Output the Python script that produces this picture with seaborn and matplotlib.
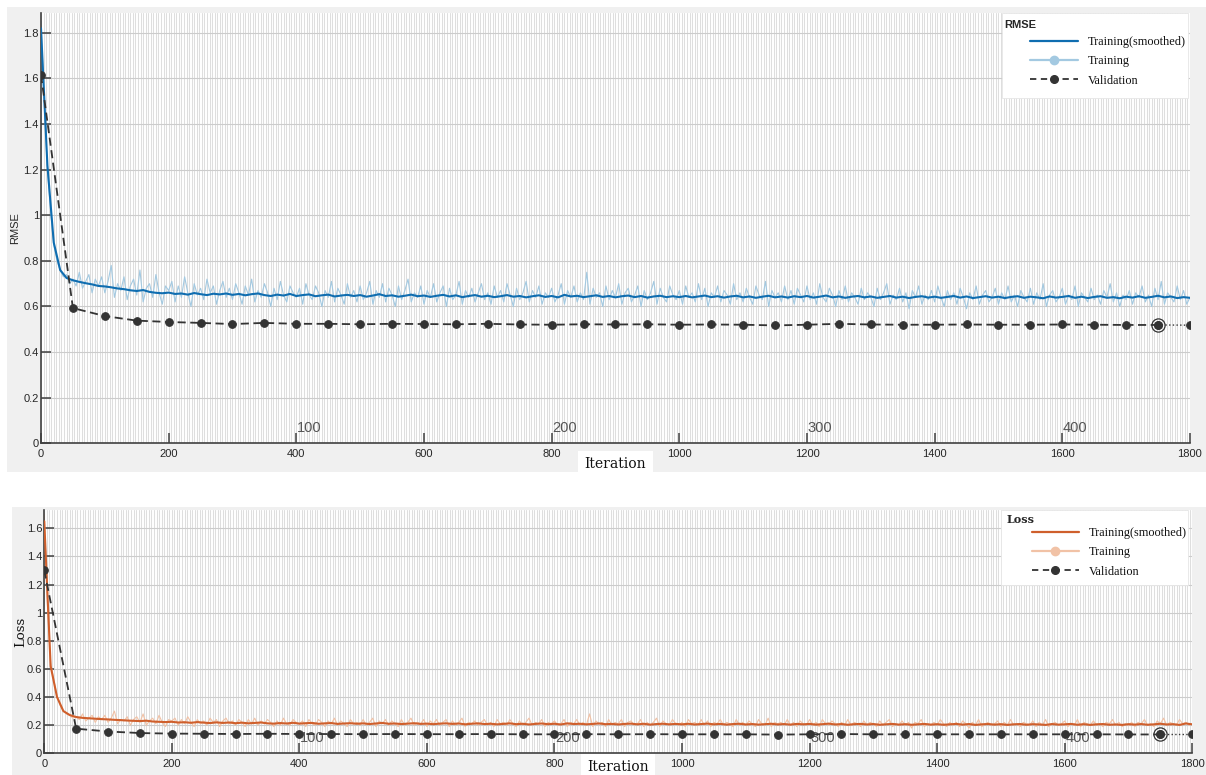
import numpy as np
import matplotlib
matplotlib.use("Agg")
import matplotlib.pyplot as plt
from matplotlib.lines import Line2D
from matplotlib.patches import Rectangle
from matplotlib.ticker import MultipleLocator, FuncFormatter
import seaborn as sns

# sampling of the series (iterations between stored values)
raw_step = 5
smooth_step = 10
val_step = 50
iters_per_epoch = 4
epoch_labels = [100, 200, 300, 400]
x_ticks = [0, 200, 400, 600, 800, 1000, 1200, 1400, 1600, 1800]

# RMSE panel
rmse_smooth = [
    1.82, 1.22, 0.88, 0.76, 0.725, 0.715, 0.708, 0.702, 0.697, 0.690,
    0.688, 0.684, 0.679, 0.676, 0.671, 0.668, 0.672, 0.664, 0.660, 0.658,
    0.661, 0.655, 0.657, 0.652, 0.659, 0.654, 0.650, 0.656, 0.653, 0.657,
    0.651, 0.655, 0.649, 0.654, 0.657, 0.650, 0.646, 0.652, 0.648, 0.655,
    0.646, 0.650, 0.653, 0.645, 0.649, 0.652, 0.644, 0.648, 0.651, 0.646,
    0.650, 0.643, 0.648, 0.654, 0.646, 0.649, 0.643, 0.647, 0.652, 0.645,
    0.648, 0.642, 0.647, 0.651, 0.644, 0.649, 0.641, 0.646, 0.650, 0.643,
    0.647, 0.641, 0.645, 0.650, 0.643, 0.646, 0.640, 0.645, 0.649, 0.642,
    0.646, 0.640, 0.651, 0.644, 0.647, 0.641, 0.645, 0.649, 0.642, 0.646,
    0.640, 0.645, 0.648, 0.641, 0.646, 0.639, 0.644, 0.647, 0.641, 0.645,
    0.641, 0.646, 0.640, 0.644, 0.648, 0.641, 0.645, 0.639, 0.644, 0.647,
    0.640, 0.644, 0.638, 0.643, 0.647, 0.640, 0.644, 0.639, 0.645, 0.641,
    0.646, 0.639, 0.643, 0.648, 0.640, 0.644, 0.638, 0.643, 0.646, 0.640,
    0.644, 0.638, 0.642, 0.646, 0.639, 0.643, 0.637, 0.642, 0.645, 0.639,
    0.643, 0.638, 0.642, 0.646, 0.639, 0.644, 0.637, 0.641, 0.645, 0.639,
    0.643, 0.637, 0.642, 0.645, 0.638, 0.643, 0.640, 0.636, 0.644, 0.639,
    0.642, 0.646, 0.638, 0.643, 0.637, 0.642, 0.645, 0.638, 0.641, 0.636,
    0.643, 0.639, 0.645, 0.638, 0.642, 0.647, 0.640, 0.644, 0.637, 0.641,
    0.638,
]
rmse_raw = [
    1.85, 1.50, 1.20, 1.02, 0.87, 0.80, 0.76, 0.73, 0.74, 0.70, 0.72, 0.69, 0.75, 0.68, 0.71, 0.74, 0.66, 0.72, 0.69, 0.73,
    0.66, 0.71, 0.78, 0.64, 0.70, 0.67, 0.73, 0.63, 0.69, 0.72, 0.65, 0.76, 0.62, 0.68, 0.70, 0.64, 0.74, 0.66, 0.61, 0.69,
    0.67, 0.71, 0.62, 0.69, 0.64, 0.73, 0.66, 0.60, 0.70, 0.65, 0.68, 0.63, 0.72, 0.66, 0.69, 0.61, 0.67, 0.71, 0.64, 0.68,
    0.63, 0.70, 0.66, 0.61, 0.69, 0.65, 0.72, 0.62, 0.67, 0.64, 0.70, 0.66, 0.60, 0.68, 0.63, 0.71, 0.65, 0.62, 0.69, 0.66,
    0.64, 0.68, 0.61, 0.70, 0.65, 0.63, 0.69, 0.66, 0.60, 0.67, 0.64, 0.71, 0.62, 0.68, 0.65, 0.61, 0.70, 0.64, 0.67, 0.62,
    0.69, 0.63, 0.66, 0.71, 0.61, 0.67, 0.64, 0.70, 0.62, 0.68, 0.65, 0.60, 0.69, 0.63, 0.67, 0.72, 0.62, 0.66, 0.64, 0.69,
    0.61, 0.67, 0.64, 0.70, 0.62, 0.66, 0.69, 0.60, 0.68, 0.63, 0.65, 0.71, 0.61, 0.67, 0.64, 0.68, 0.62, 0.66, 0.70, 0.63,
    0.66, 0.61, 0.69, 0.64, 0.67, 0.62, 0.70, 0.65, 0.60, 0.68, 0.63, 0.66, 0.71, 0.62, 0.67, 0.64, 0.69, 0.61, 0.66, 0.64,
    0.68, 0.62, 0.65, 0.70, 0.61, 0.67, 0.64, 0.69, 0.62, 0.66, 0.63, 0.75, 0.61, 0.68, 0.64, 0.66, 0.60, 0.69, 0.63, 0.67,
    0.64, 0.70, 0.61, 0.66, 0.68, 0.62, 0.65, 0.69, 0.60, 0.67, 0.63, 0.66, 0.71, 0.61, 0.68, 0.64, 0.62, 0.69, 0.65, 0.63,
    0.67, 0.61, 0.69, 0.64, 0.66, 0.62, 0.70, 0.63, 0.68, 0.60, 0.66, 0.64, 0.69, 0.62, 0.67, 0.65, 0.61, 0.70, 0.63, 0.66,
    0.62, 0.68, 0.64, 0.61, 0.69, 0.65, 0.63, 0.71, 0.60, 0.67, 0.64, 0.66, 0.62, 0.69, 0.63, 0.67, 0.61, 0.68, 0.65, 0.62,
    0.69, 0.63, 0.66, 0.61, 0.70, 0.64, 0.62, 0.68, 0.65, 0.60, 0.67, 0.63, 0.69, 0.62, 0.66, 0.64, 0.61, 0.68, 0.63, 0.66,
    0.64, 0.60, 0.68, 0.63, 0.66, 0.70, 0.61, 0.65, 0.63, 0.68, 0.62, 0.66, 0.59, 0.67, 0.64, 0.69, 0.61, 0.65, 0.63, 0.67,
    0.62, 0.69, 0.64, 0.60, 0.67, 0.63, 0.66, 0.61, 0.68, 0.64, 0.59, 0.66, 0.63, 0.69, 0.61, 0.65, 0.67, 0.62, 0.64, 0.68,
    0.61, 0.66, 0.63, 0.69, 0.62, 0.65, 0.60, 0.67, 0.64, 0.62, 0.68, 0.61, 0.66, 0.63, 0.70, 0.60, 0.65, 0.67, 0.62, 0.64,
    0.68, 0.61, 0.65, 0.63, 0.69, 0.60, 0.66, 0.64, 0.62, 0.68, 0.63, 0.65, 0.61, 0.67, 0.64, 0.70, 0.62, 0.66, 0.60, 0.65,
    0.63, 0.67, 0.61, 0.66, 0.64, 0.69, 0.62, 0.65, 0.60, 0.68, 0.63, 0.71, 0.61, 0.66, 0.64, 0.62, 0.69, 0.63, 0.67, 0.61,
    0.64,
]
rmse_val = [
    1.615, 0.593, 0.558, 0.538, 0.532, 0.528, 0.523, 0.528, 0.524, 0.524,
    0.522, 0.524, 0.523, 0.522, 0.524, 0.521, 0.520, 0.522, 0.521, 0.522,
    0.520, 0.521, 0.520, 0.517, 0.520, 0.524, 0.521, 0.520, 0.520, 0.521,
    0.520, 0.520, 0.521, 0.520, 0.519, 0.519, 0.518,
]

# Loss panel
loss_smooth = [
    1.65, 0.62, 0.40, 0.30, 0.272, 0.258, 0.252, 0.249, 0.246, 0.243,
    0.241, 0.238, 0.236, 0.233, 0.231, 0.229, 0.232, 0.226, 0.224, 0.222,
    0.224, 0.219, 0.221, 0.217, 0.222, 0.218, 0.215, 0.220, 0.216, 0.219,
    0.214, 0.218, 0.213, 0.216, 0.219, 0.213, 0.211, 0.215, 0.212, 0.217,
    0.211, 0.214, 0.216, 0.210, 0.213, 0.215, 0.209, 0.212, 0.214, 0.210,
    0.213, 0.208, 0.212, 0.216, 0.210, 0.212, 0.208, 0.211, 0.214, 0.209,
    0.211, 0.207, 0.211, 0.213, 0.209, 0.212, 0.206, 0.210, 0.213, 0.208,
    0.210, 0.206, 0.209, 0.213, 0.207, 0.210, 0.205, 0.209, 0.212, 0.207,
    0.210, 0.205, 0.213, 0.208, 0.210, 0.206, 0.209, 0.212, 0.207, 0.209,
    0.205, 0.209, 0.211, 0.206, 0.210, 0.204, 0.208, 0.210, 0.206, 0.209,
    0.206, 0.210, 0.205, 0.208, 0.211, 0.206, 0.209, 0.204, 0.208, 0.210,
    0.205, 0.208, 0.204, 0.207, 0.210, 0.205, 0.208, 0.204, 0.209, 0.206,
    0.209, 0.204, 0.207, 0.211, 0.205, 0.208, 0.203, 0.207, 0.209, 0.205,
    0.208, 0.203, 0.206, 0.209, 0.204, 0.207, 0.203, 0.206, 0.209, 0.204,
    0.207, 0.203, 0.206, 0.209, 0.204, 0.208, 0.202, 0.206, 0.208, 0.204,
    0.207, 0.202, 0.206, 0.208, 0.203, 0.207, 0.205, 0.202, 0.208, 0.204,
    0.206, 0.209, 0.203, 0.207, 0.202, 0.206, 0.208, 0.203, 0.205, 0.202,
    0.207, 0.204, 0.208, 0.203, 0.206, 0.210, 0.205, 0.207, 0.202, 0.212,
    0.206,
]
loss_raw = [
    1.70, 1.05, 0.64, 0.52, 0.41, 0.34, 0.30, 0.28, 0.27, 0.25, 0.26, 0.24, 0.28, 0.23, 0.25, 0.27, 0.22, 0.26, 0.24, 0.27,
    0.22, 0.25, 0.30, 0.21, 0.24, 0.23, 0.26, 0.20, 0.24, 0.26, 0.22, 0.28, 0.20, 0.23, 0.25, 0.21, 0.27, 0.22, 0.19, 0.24,
    0.23, 0.25, 0.20, 0.24, 0.21, 0.26, 0.22, 0.19, 0.24, 0.21, 0.23, 0.20, 0.25, 0.22, 0.24, 0.19, 0.23, 0.25, 0.21, 0.23,
    0.20, 0.24, 0.22, 0.19, 0.24, 0.21, 0.25, 0.20, 0.23, 0.21, 0.24, 0.22, 0.19, 0.23, 0.20, 0.25, 0.21, 0.20, 0.24, 0.22,
    0.21, 0.23, 0.19, 0.24, 0.21, 0.20, 0.24, 0.22, 0.19, 0.23, 0.21, 0.25, 0.20, 0.23, 0.21, 0.19, 0.24, 0.21, 0.22, 0.20,
    0.24, 0.20, 0.22, 0.25, 0.19, 0.23, 0.21, 0.24, 0.20, 0.23, 0.21, 0.19, 0.24, 0.20, 0.22, 0.25, 0.20, 0.22, 0.21, 0.24,
    0.19, 0.23, 0.21, 0.24, 0.20, 0.22, 0.24, 0.19, 0.23, 0.20, 0.22, 0.25, 0.19, 0.22, 0.21, 0.23, 0.20, 0.22, 0.24, 0.20,
    0.22, 0.19, 0.24, 0.21, 0.22, 0.20, 0.24, 0.21, 0.19, 0.23, 0.20, 0.22, 0.25, 0.20, 0.22, 0.21, 0.24, 0.19, 0.22, 0.21,
    0.23, 0.20, 0.21, 0.24, 0.19, 0.22, 0.21, 0.24, 0.20, 0.22, 0.20, 0.28, 0.19, 0.23, 0.21, 0.22, 0.19, 0.24, 0.20, 0.22,
    0.21, 0.24, 0.19, 0.22, 0.23, 0.20, 0.21, 0.24, 0.19, 0.22, 0.20, 0.22, 0.25, 0.19, 0.23, 0.21, 0.20, 0.24, 0.21, 0.20,
    0.22, 0.19, 0.24, 0.21, 0.22, 0.20, 0.24, 0.20, 0.23, 0.19, 0.22, 0.21, 0.24, 0.20, 0.22, 0.21, 0.19, 0.24, 0.20, 0.22,
    0.20, 0.23, 0.21, 0.19, 0.24, 0.21, 0.20, 0.25, 0.19, 0.22, 0.21, 0.22, 0.20, 0.24, 0.20, 0.22, 0.19, 0.23, 0.21, 0.20,
    0.24, 0.20, 0.22, 0.19, 0.24, 0.21, 0.20, 0.23, 0.21, 0.19, 0.22, 0.20, 0.24, 0.20, 0.22, 0.21, 0.19, 0.23, 0.20, 0.22,
    0.21, 0.19, 0.23, 0.20, 0.22, 0.24, 0.19, 0.21, 0.20, 0.23, 0.20, 0.22, 0.18, 0.22, 0.21, 0.24, 0.19, 0.21, 0.20, 0.22,
    0.20, 0.24, 0.21, 0.19, 0.22, 0.20, 0.22, 0.19, 0.23, 0.21, 0.18, 0.22, 0.20, 0.24, 0.19, 0.21, 0.22, 0.20, 0.21, 0.23,
    0.19, 0.22, 0.20, 0.24, 0.20, 0.21, 0.19, 0.22, 0.21, 0.20, 0.23, 0.19, 0.22, 0.20, 0.24, 0.19, 0.21, 0.22, 0.20, 0.21,
    0.23, 0.19, 0.21, 0.20, 0.24, 0.19, 0.22, 0.21, 0.20, 0.23, 0.20, 0.21, 0.19, 0.22, 0.21, 0.24, 0.20, 0.22, 0.19, 0.21,
    0.20, 0.22, 0.19, 0.22, 0.21, 0.24, 0.20, 0.21, 0.19, 0.23, 0.21, 0.25, 0.20, 0.22, 0.21, 0.20, 0.24, 0.21, 0.22, 0.20,
    0.21,
]
loss_val = [
    1.30, 0.175, 0.155, 0.144, 0.140, 0.139, 0.137, 0.139, 0.137, 0.137,
    0.136, 0.137, 0.136, 0.136, 0.137, 0.135, 0.135, 0.136, 0.135, 0.136,
    0.135, 0.135, 0.135, 0.133, 0.135, 0.137, 0.135, 0.135, 0.135, 0.135,
    0.135, 0.135, 0.135, 0.135, 0.134, 0.134, 0.134,
]

sns.set_style("ticks")
plt.rcParams["font.family"] = ["Liberation Sans", "DejaVu Sans"]
SERIF = "DejaVu Serif"
LEG_SERIF = "Liberation Serif"
VAL_COLOR = "#333333"

fig = plt.figure(figsize=(12.06, 7.75), dpi=100)
fig.patch.set_facecolor("white")
# grey panels behind each plot
fig.patches.append(Rectangle((0.006, 0.391), 0.994, 0.600, transform=fig.transFigure,
                             facecolor="#f0f0f0", edgecolor="none", zorder=-5))
fig.patches.append(Rectangle((0.010, 0.0), 0.990, 0.346, transform=fig.transFigure,
                             facecolor="#f0f0f0", edgecolor="none", zorder=-5))

ax_top = fig.add_axes([0.0340, 0.4280, 0.9527, 0.5552])
ax_bot = fig.add_axes([0.0367, 0.0280, 0.9519, 0.3139])


def draw_panel(ax, raw, smooth, val, dark, light, ymax, yticks, ylabel, ylab_font,
               ylab_x, title, title_font, box, title_xy, leg_anchor, xlab_y):
    raw_it = np.arange(len(raw)) * raw_step
    sm_it = np.arange(len(smooth)) * smooth_step
    val_it = np.arange(len(val)) * val_step

    sns.lineplot(x=raw_it, y=raw, ax=ax, color=light, lw=0.8,
                 estimator=None, errorbar=None, zorder=2)
    sns.lineplot(x=sm_it, y=smooth, ax=ax, color=dark, lw=1.5,
                 estimator=None, errorbar=None, zorder=3)
    sns.lineplot(x=val_it[:-1], y=val[:-1], ax=ax, color=VAL_COLOR, lw=1.3,
                 linestyle=(0, (4.5, 2.5)), marker="o", markersize=5.5,
                 markeredgecolor=VAL_COLOR, markerfacecolor=VAL_COLOR,
                 estimator=None, errorbar=None, zorder=4)
    # last validation step: dotted link and circled final-best point
    sns.lineplot(x=val_it[-2:], y=val[-2:], ax=ax, color=VAL_COLOR, lw=1.0,
                 linestyle=":", marker="o", markersize=5.5,
                 markeredgecolor=VAL_COLOR, markerfacecolor=VAL_COLOR,
                 estimator=None, errorbar=None, zorder=4)
    ax.plot(val_it[-2], val[-2], marker="o", ms=9.5, mfc="none",
            mec=VAL_COLOR, mew=0.9, zorder=4)

    ax.set_xlim(0, 1800)
    ax.set_ylim(0, ymax)
    ax.set_facecolor("white")
    ax.set_axisbelow(True)
    ax.set_xticks(x_ticks)
    ax.set_yticks(yticks)
    ax.yaxis.set_major_formatter(FuncFormatter(lambda v, p: f"{v:g}"))
    ax.xaxis.set_minor_locator(MultipleLocator(iters_per_epoch))
    ax.grid(which="both", axis="x", color="#dedede", lw=0.75)
    ax.grid(which="major", axis="y", color="#cccccc", lw=0.8)
    ax.tick_params(which="major", direction="in", length=7, width=1.1,
                   color="#404040", labelsize=8, labelcolor="#262626")
    ax.tick_params(axis="x", which="major", pad=4)
    ax.tick_params(axis="y", which="major", pad=1.5)
    ax.tick_params(which="minor", length=0)
    for s in ["top", "right"]:
        ax.spines[s].set_visible(False)
    for s in ["left", "bottom"]:
        ax.spines[s].set_color("#404040")
        ax.spines[s].set_linewidth(1.2)

    # epoch numbers along the bottom
    for ep in epoch_labels:
        ax.annotate(str(ep), xy=(ep * iters_per_epoch, 0),
                    xycoords=("data", "axes fraction"), xytext=(0.5, 6),
                    textcoords="offset points", fontsize=10.5, color="#555555",
                    ha="left", va="bottom", zorder=1)

    lab = ax.set_ylabel(ylabel, **ylab_font)
    lab.set_va("center")
    ax.yaxis.set_label_coords(ylab_x, 0.5)
    xl = ax.set_xlabel("Iteration", family=SERIF, fontsize=10, color="#111111",
                       bbox=dict(boxstyle="square,pad=0.45", fc="white", ec="none"))
    xl.set_va("center")
    ax.xaxis.set_label_coords(0.5, xlab_y)

    # legend box
    ax.add_patch(Rectangle((box[0], box[1]), box[2], box[3], transform=ax.transAxes,
                           facecolor="white", edgecolor="#e6e6e6", lw=0.6, zorder=6))
    ax.text(title_xy[0], title_xy[1], title, transform=ax.transAxes, ha="left",
            va="center", fontweight="bold", zorder=8, **title_font)
    handles = [
        Line2D([], [], color=dark, lw=1.6),
        Line2D([], [], color=light, lw=1.6, marker="o", ms=6, mfc=light, mec=light),
        Line2D([], [], color=VAL_COLOR, lw=1.3, linestyle=(0, (3.5, 2.5)),
               marker="o", ms=5.5, mfc=VAL_COLOR, mec=VAL_COLOR),
    ]
    leg = ax.legend(handles, ["Training(smoothed)", "Training", "Validation"],
                    loc="upper left", bbox_to_anchor=leg_anchor, frameon=False,
                    borderpad=0, borderaxespad=0, handlelength=3.9,
                    handletextpad=0.8, labelspacing=0.6,
                    prop={"family": LEG_SERIF, "size": 8.8})
    for t in leg.get_texts():
        t.set_color("#111111")
    leg.set_zorder(9)


draw_panel(ax_top, rmse_raw, rmse_smooth, rmse_val, "#0f6db0", "#a3c9e1",
           1.887, np.arange(0, 1.81, 0.2), "RMSE",
           {"fontsize": 8, "color": "#262626"}, -0.0226,
           "RMSE", {"fontsize": 8}, (0.836, 0.8025, 0.162, 0.1975),
           (0.838, 0.972), (0.861, 0.9466), -0.048)

draw_panel(ax_bot, loss_raw, loss_smooth, loss_val, "#cf5f2c", "#f1c2a6",
           1.730, np.arange(0, 1.61, 0.2), "Loss",
           {"fontsize": 9.5, "family": SERIF, "color": "#111111"}, -0.0203,
           "Loss", {"fontsize": 8, "family": SERIF}, (0.833, 0.692, 0.163, 0.308),
           (0.838, 0.963), (0.860, 0.930), -0.058)

fig.savefig("out.png", dpi=100)
